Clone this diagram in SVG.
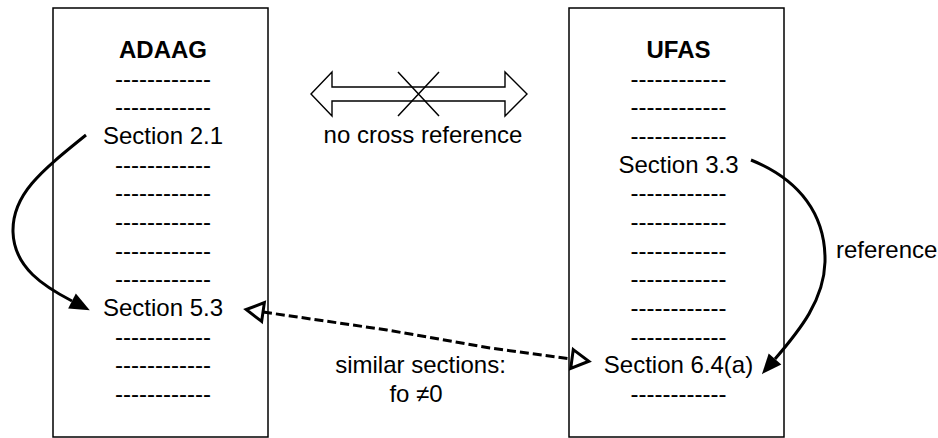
<svg xmlns="http://www.w3.org/2000/svg" width="938" height="438" viewBox="0 0 938 438">
  <style>
    .doc { fill: #fff; stroke: #000; stroke-width: 1.5; }
    .txt { font-family: "Liberation Sans", Arial, sans-serif; font-size: 24px; fill: #000; text-anchor: middle; }
    .title { font-weight: bold; }
    .ref { fill: none; stroke: #000; stroke-width: 3; }
    .sim { fill: none; stroke: #000; stroke-width: 3; stroke-dasharray: 9 4; }
    .thin { fill: #fff; stroke: #000; stroke-width: 1.4; }
  </style>
  <defs>
    <marker id="solidHead" markerUnits="userSpaceOnUse" markerWidth="20" markerHeight="20" viewBox="0 -8 18 16" refX="0" refY="0" orient="auto" overflow="visible">
      <path d="M0,-7.5 L18,0 L0,7.5 Z" fill="#000"/>
    </marker>
    <marker id="openHead" markerUnits="userSpaceOnUse" markerWidth="24" markerHeight="24" viewBox="0 -12 20 24" refX="0" refY="0" orient="auto-start-reverse" overflow="visible">
      <path d="M0,-9.5 L17,0 L0,9.5 Z" fill="#fff" stroke="#000" stroke-width="3" stroke-linejoin="miter"/>
    </marker>
  </defs>

  <!-- ADAAG document -->
  <g id="adaag">
    <rect class="doc" x="53" y="8" width="215" height="429"/>
    <text class="txt title" x="163" y="58">ADAAG</text>
    <text class="txt" x="163" y="86.7">------------</text>
    <text class="txt" x="163" y="115.3">------------</text>
    <text class="txt" x="163" y="144">Section 2.1</text>
    <text class="txt" x="163" y="172.6">------------</text>
    <text class="txt" x="163" y="201.3">------------</text>
    <text class="txt" x="163" y="230">------------</text>
    <text class="txt" x="163" y="258.6">------------</text>
    <text class="txt" x="163" y="287.3">------------</text>
    <text class="txt" x="163" y="316">Section 5.3</text>
    <text class="txt" x="163" y="344.6">------------</text>
    <text class="txt" x="163" y="373.3">------------</text>
    <text class="txt" x="163" y="402">------------</text>
  </g>

  <!-- UFAS document -->
  <g id="ufas">
    <rect class="doc" x="569" y="8" width="215" height="429"/>
    <text class="txt title" x="678.5" y="58">UFAS</text>
    <text class="txt" x="678.5" y="86.7">------------</text>
    <text class="txt" x="678.5" y="115.3">------------</text>
    <text class="txt" x="678.5" y="144">------------</text>
    <text class="txt" x="678.5" y="172.6">Section 3.3</text>
    <text class="txt" x="678.5" y="201.3">------------</text>
    <text class="txt" x="678.5" y="230">------------</text>
    <text class="txt" x="678.5" y="258.6">------------</text>
    <text class="txt" x="678.5" y="287.3">------------</text>
    <text class="txt" x="678.5" y="316">------------</text>
    <text class="txt" x="678.5" y="344.6">------------</text>
    <text class="txt" x="678.5" y="373.3">Section 6.4(a)</text>
    <text class="txt" x="678.5" y="402">------------</text>
  </g>

  <!-- crossed-out two-way arrow -->
  <g id="no-cross-reference">
    <polygon class="thin" points="311,94 332,72 332,87 505,87 505,72 527,94 505,116 505,101 332,101 332,116"/>
    <path d="M398,72 L439,116 M439,72 L398,116" stroke="#000" stroke-width="1.5" fill="none"/>
    <text class="txt" x="423" y="143">no cross reference</text>
  </g>

  <!-- connectors -->
  <g id="connectors">
    <path class="ref" d="M86,135 C40,172 12,195 13,232 C14,268 45,287 72,301" marker-end="url(#solidHead)"/>
    <path class="ref" d="M751,160 C800,180 826,215 825,262 C824,300 800,330 775,359" marker-end="url(#solidHead)"/>
    <path class="sim" d="M263,312 L387,330 L490,348 L572,359" marker-start="url(#openHead)" marker-end="url(#openHead)"/>
    <text class="txt" x="836" y="258" style="text-anchor:start">reference</text>
    <text class="txt" x="420.5" y="373.3">similar sections:</text>
    <text class="txt" x="416" y="401.7">fo ≠0</text>
  </g>
</svg>
